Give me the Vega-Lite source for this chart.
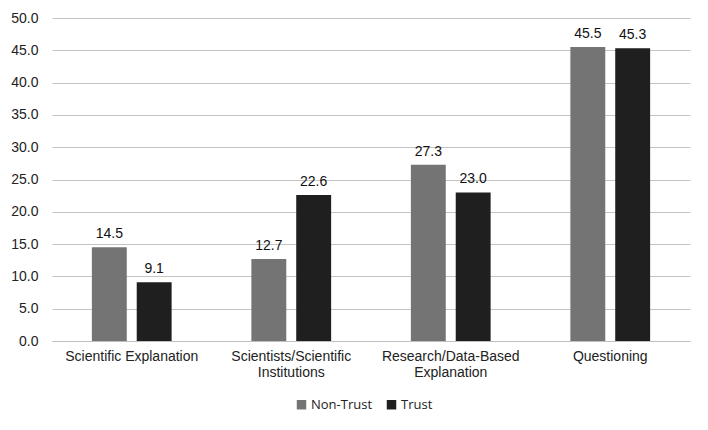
{
  "$schema": "https://vega.github.io/schema/vega-lite/v6.json",
  "width": 638,
  "height": 323,
  "autosize": {"type": "none"},
  "padding": {"left": 52, "top": 18, "right": 18, "bottom": 89},
  "background": "white",
  "config": {
    "view": {"stroke": null},
    "font": "Liberation Sans",
    "axis": {"labelFont": "Liberation Sans", "labelFontSize": 14, "labelColor": "#222222"}
  },
  "data": {
    "values": [
      {"category": "Scientific Explanation", "group": "Non-Trust", "value": 14.5},
      {"category": "Scientific Explanation", "group": "Trust", "value": 9.1},
      {"category": "Scientists/Scientific Institutions", "group": "Non-Trust", "value": 12.7},
      {"category": "Scientists/Scientific Institutions", "group": "Trust", "value": 22.6},
      {"category": "Research/Data-Based Explanation", "group": "Non-Trust", "value": 27.3},
      {"category": "Research/Data-Based Explanation", "group": "Trust", "value": 23.0},
      {"category": "Questioning", "group": "Non-Trust", "value": 45.5},
      {"category": "Questioning", "group": "Trust", "value": 45.3}
    ]
  },
  "encoding": {
    "x": {
      "field": "category",
      "type": "nominal",
      "sort": null,
      "scale": {"paddingInner": 0.5, "paddingOuter": 0.25},
      "axis": {
        "title": null,
        "labelAngle": 0,
        "labelLimit": 300,
        "ticks": false,
        "domainColor": "#bfbfbf",
        "domainWidth": 1,
        "labelPadding": 8,
        "labelLineHeight": 16,
        "labelExpr": "datum.label == 'Scientists/Scientific Institutions' ? ['Scientists/Scientific', 'Institutions'] : datum.label == 'Research/Data-Based Explanation' ? ['Research/Data-Based', 'Explanation'] : datum.label"
      }
    },
    "xOffset": {
      "field": "group",
      "type": "nominal",
      "sort": ["Non-Trust", "Trust"],
      "scale": {"paddingInner": 0.222, "paddingOuter": 0}
    },
    "y": {
      "field": "value",
      "type": "quantitative",
      "scale": {"domain": [0, 50], "nice": false},
      "axis": {
        "title": null,
        "values": [0, 5, 10, 15, 20, 25, 30, 35, 40, 45, 50],
        "format": ".1f",
        "ticks": false,
        "domain": false,
        "gridColor": "#c4c4c4",
        "gridWidth": 1,
        "labelPadding": 14
      }
    }
  },
  "layer": [
    {
      "mark": {"type": "bar"},
      "encoding": {
        "color": {
          "field": "group",
          "type": "nominal",
          "sort": ["Non-Trust", "Trust"],
          "scale": {"domain": ["Non-Trust", "Trust"], "range": ["#747474", "#1f1f1f"]},
          "legend": {
            "title": null,
            "orient": "none",
            "direction": "horizontal",
            "legendX": 243,
            "legendY": 380,
            "symbolType": "square",
            "symbolSize": 90,
            "symbolStrokeWidth": 0,
            "labelFont": "Open Sans",
            "labelFontSize": 13,
            "labelColor": "#222222",
            "columnPadding": 12,
            "labelOffset": 3
          }
        }
      }
    },
    {
      "mark": {"type": "text", "dy": -13, "fontSize": 14, "font": "Liberation Sans", "color": "#111111"},
      "encoding": {
        "text": {"field": "value", "type": "quantitative", "format": ".1f"}
      }
    }
  ]
}
